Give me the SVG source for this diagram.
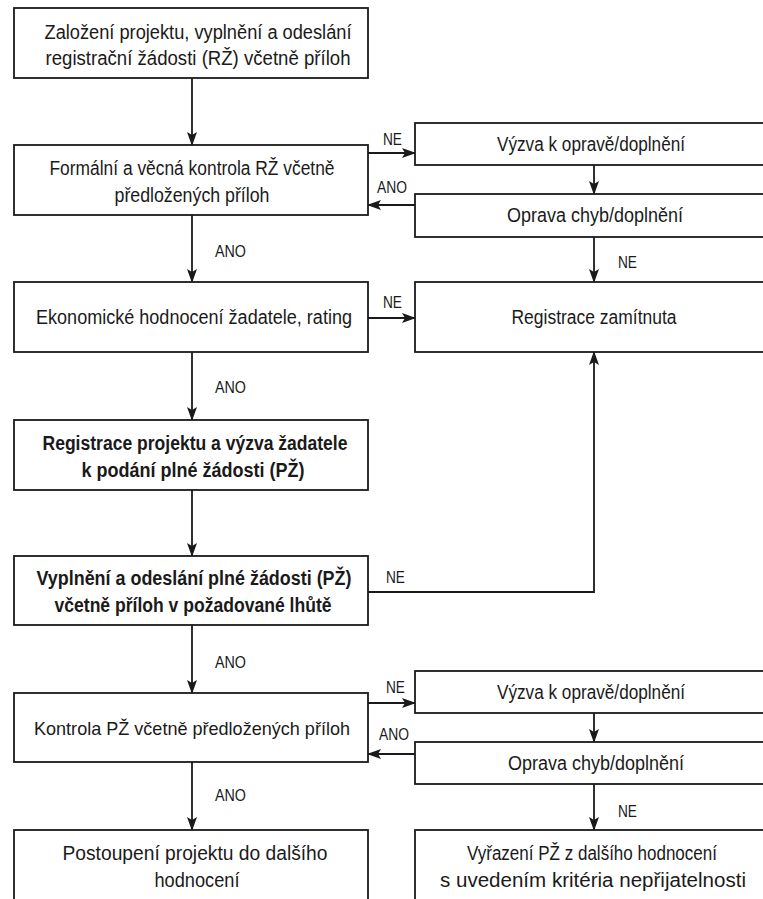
<svg xmlns="http://www.w3.org/2000/svg" width="763" height="899" viewBox="0 0 763 899">
<defs>
<marker id="ah" viewBox="0 0 14 10" refX="13" refY="5" markerWidth="14" markerHeight="10" markerUnits="userSpaceOnUse" orient="auto">
<path d="M0,0 L14,5 L0,10 L3,5 z" fill="#1a1a1a"/>
</marker>
<style>
.box{fill:#fff;stroke:#1a1a1a;stroke-width:1.8}
.t{font-family:"Liberation Sans",Arial,sans-serif;font-size:20px;fill:#1a1a1a;text-anchor:middle}
.b{font-weight:bold}
.s19{font-size:19px}
.lbl{font-family:"Liberation Sans",Arial,sans-serif;font-size:17px;fill:#1a1a1a}
.c{fill:none;stroke:#1a1a1a;stroke-width:1.8}
.a{marker-end:url(#ah)}
</style>
</defs>
<rect width="763" height="899" fill="#fff"/>

<g id="connectors">
<line class="c a" x1="192" y1="78" x2="192" y2="145"/>
<line class="c a" x1="192" y1="215" x2="192" y2="282"/>
<line class="c a" x1="192" y1="352" x2="192" y2="420"/>
<line class="c a" x1="192" y1="490" x2="192" y2="556"/>
<line class="c a" x1="192" y1="625" x2="192" y2="693"/>
<line class="c a" x1="192" y1="762" x2="192" y2="830"/>
<line class="c a" x1="368" y1="153" x2="415" y2="153"/>
<line class="c a" x1="415" y1="205" x2="368" y2="205"/>
<line class="c a" x1="594" y1="165" x2="594" y2="194"/>
<line class="c a" x1="594" y1="237" x2="594" y2="282"/>
<line class="c a" x1="368" y1="318" x2="415" y2="318"/>
<polyline class="c a" points="368,592 594,592 594,352"/>
<line class="c a" x1="368" y1="703" x2="415" y2="703"/>
<line class="c a" x1="415" y1="754" x2="368" y2="754"/>
<line class="c a" x1="594" y1="713" x2="594" y2="742"/>
<line class="c a" x1="594" y1="784" x2="594" y2="830"/>
<text class="lbl" x="383" y="145" textLength="19" lengthAdjust="spacingAndGlyphs">NE</text>
<text class="lbl" x="377" y="193" textLength="30" lengthAdjust="spacingAndGlyphs">ANO</text>
<text class="lbl" x="618" y="268" textLength="19" lengthAdjust="spacingAndGlyphs">NE</text>
<text class="lbl" x="383" y="308" textLength="19" lengthAdjust="spacingAndGlyphs">NE</text>
<text class="lbl" x="215" y="257" textLength="31" lengthAdjust="spacingAndGlyphs">ANO</text>
<text class="lbl" x="215" y="393" textLength="31" lengthAdjust="spacingAndGlyphs">ANO</text>
<text class="lbl" x="386" y="583" textLength="19" lengthAdjust="spacingAndGlyphs">NE</text>
<text class="lbl" x="215" y="668" textLength="31" lengthAdjust="spacingAndGlyphs">ANO</text>
<text class="lbl" x="386" y="693" textLength="19" lengthAdjust="spacingAndGlyphs">NE</text>
<text class="lbl" x="379" y="740" textLength="30" lengthAdjust="spacingAndGlyphs">ANO</text>
<text class="lbl" x="215" y="801" textLength="31" lengthAdjust="spacingAndGlyphs">ANO</text>
<text class="lbl" x="618" y="817" textLength="19" lengthAdjust="spacingAndGlyphs">NE</text>
</g>

<g id="n1">
<rect class="box" x="14" y="8" width="354" height="70"/>
<text class="t" x="198" y="39" textLength="307" lengthAdjust="spacingAndGlyphs">Založení projektu, vyplnění a odeslání</text>
<text class="t" x="198" y="65" textLength="305" lengthAdjust="spacingAndGlyphs">registrační žádosti (RŽ) včetně příloh</text>
</g>
<g id="n2">
<rect class="box" x="14" y="145" width="354" height="70"/>
<text class="t" x="192" y="175" textLength="285" lengthAdjust="spacingAndGlyphs">Formální a věcná kontrola RŽ včetně</text>
<text class="t" x="192" y="202" textLength="155" lengthAdjust="spacingAndGlyphs">předložených příloh</text>
</g>
<g id="n3">
<rect class="box" x="14" y="282" width="354" height="70"/>
<text class="t" x="194" y="324" textLength="316" lengthAdjust="spacingAndGlyphs">Ekonomické hodnocení žadatele, rating</text>
</g>
<g id="n4">
<rect class="box" x="14" y="420" width="354" height="70"/>
<text class="t b" x="195" y="450" textLength="305" lengthAdjust="spacingAndGlyphs">Registrace projektu a výzva žadatele</text>
<text class="t b" x="193" y="477" textLength="223" lengthAdjust="spacingAndGlyphs">k podání plné žádosti (PŽ)</text>
</g>
<g id="n5">
<rect class="box" x="14" y="556" width="354" height="69"/>
<text class="t b" x="194" y="585" textLength="315" lengthAdjust="spacingAndGlyphs">Vyplnění a odeslání plné žádosti (PŽ)</text>
<text class="t b" x="193" y="612" textLength="277" lengthAdjust="spacingAndGlyphs">včetně příloh v požadované lhůtě</text>
</g>
<g id="n6">
<rect class="box" x="14" y="693" width="354" height="69"/>
<text class="t s19" x="192" y="735" textLength="316" lengthAdjust="spacingAndGlyphs">Kontrola PŽ včetně předložených příloh</text>
</g>
<g id="n7">
<rect class="box" x="14" y="830" width="354" height="80"/>
<text class="t" x="195" y="860" textLength="265" lengthAdjust="spacingAndGlyphs">Postoupení projektu do dalšího</text>
<text class="t" x="197" y="887" textLength="85" lengthAdjust="spacingAndGlyphs">hodnocení</text>
</g>
<g id="r1">
<rect class="box" x="415" y="123" width="360" height="42"/>
<text class="t" x="591" y="151" textLength="188" lengthAdjust="spacingAndGlyphs">Výzva k opravě/doplnění</text>
</g>
<g id="r2">
<rect class="box" x="415" y="194" width="360" height="43"/>
<text class="t" x="595" y="222" textLength="176" lengthAdjust="spacingAndGlyphs">Oprava chyb/doplnění</text>
</g>
<g id="r3">
<rect class="box" x="415" y="282" width="360" height="70"/>
<text class="t" x="594" y="324" textLength="165" lengthAdjust="spacingAndGlyphs">Registrace zamítnuta</text>
</g>
<g id="r4">
<rect class="box" x="415" y="671" width="360" height="42"/>
<text class="t" x="591" y="699" textLength="188" lengthAdjust="spacingAndGlyphs">Výzva k opravě/doplnění</text>
</g>
<g id="r5">
<rect class="box" x="415" y="742" width="360" height="42"/>
<text class="t" x="596" y="770" textLength="176" lengthAdjust="spacingAndGlyphs">Oprava chyb/doplnění</text>
</g>
<g id="r6">
<rect class="box" x="415" y="830" width="360" height="80"/>
<text class="t" x="592" y="860" textLength="250" lengthAdjust="spacingAndGlyphs">Vyřazení PŽ z dalšího hodnocení</text>
<text class="t" x="593" y="887" textLength="306" lengthAdjust="spacingAndGlyphs">s uvedením kritéria nepřijatelnosti</text>
</g>
</svg>
